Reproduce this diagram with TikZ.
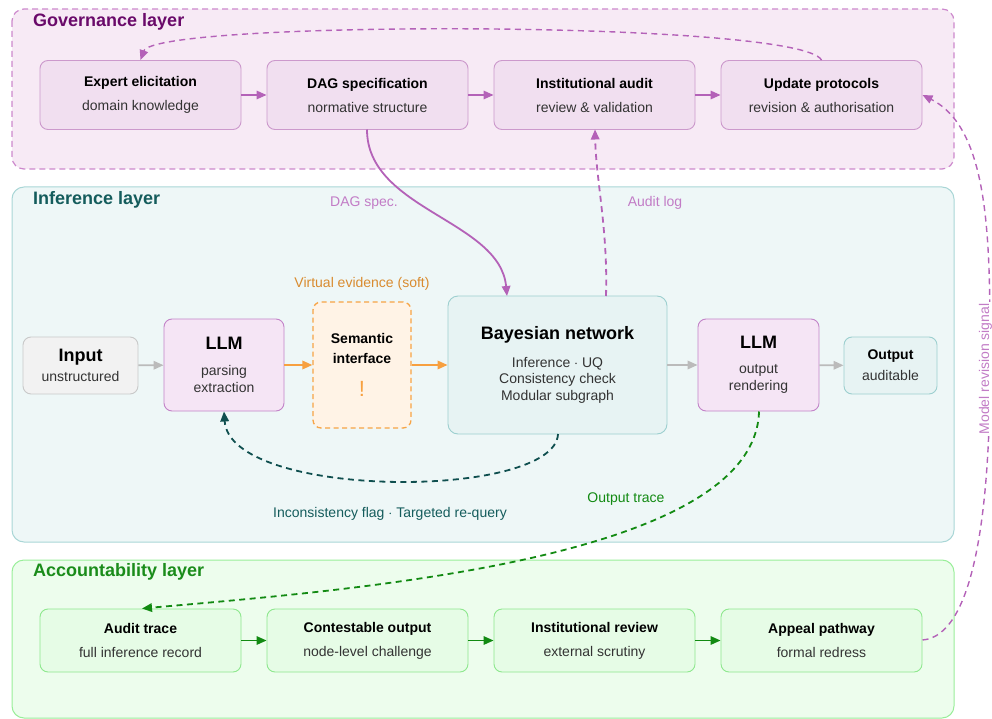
\documentclass[tikz,border=0pt]{standalone}
\usepackage{fontspec}
\setmainfont{Liberation Sans}
\usetikzlibrary{arrows.meta}
\definecolor{govlayfill}{HTML}{F7EAF5}
\definecolor{govlaybd}{HTML}{CC88CC}
\definecolor{govboxfill}{HTML}{F1DFF0}
\definecolor{govboxbd}{HTML}{CC99CC}
\definecolor{govtitle}{HTML}{6A0A6A}
\definecolor{purpconn}{HTML}{B462B8}
\definecolor{purplabel}{HTML}{C27CC6}
\definecolor{inflayfill}{HTML}{EEF7F7}
\definecolor{inflaybd}{HTML}{A9D6D6}
\definecolor{inftitle}{HTML}{145C5C}
\definecolor{tealconn}{HTML}{0F4F4F}
\definecolor{bayesfill}{HTML}{E7F3F3}
\definecolor{bayesbd}{HTML}{9CCFCF}
\definecolor{llmfill}{HTML}{F5E5F5}
\definecolor{llmbd}{HTML}{C283C8}
\definecolor{inpfill}{HTML}{F2F2F2}
\definecolor{inpbd}{HTML}{C9C9C9}
\definecolor{semfill}{HTML}{FFF3E6}
\definecolor{sembd}{HTML}{F7A445}
\definecolor{orconn}{HTML}{F7A040}
\definecolor{orlabel}{HTML}{D98B2F}
\definecolor{grayconn}{HTML}{BBBBBB}
\definecolor{acclayfill}{HTML}{EDFDED}
\definecolor{acclaybd}{HTML}{99EE99}
\definecolor{accboxfill}{HTML}{E6FCE6}
\definecolor{accboxbd}{HTML}{8EE88E}
\definecolor{acctitle}{HTML}{1A8C1A}
\definecolor{greenconn}{HTML}{128A12}
\definecolor{subtext}{HTML}{333333}
\begin{document}
\begin{tikzpicture}[x=1pt,y=-1pt,
  layertitle/.style={anchor=west, inner sep=0pt, font=\fontsize{18}{20}\selectfont\bfseries},
  stagebox/.style={rounded corners=8pt, line width=0.9pt, minimum width=201pt, inner sep=0pt, align=center, font=\fontsize{14}{17}\selectfont, text=subtext},
  govbox/.style={stagebox, draw=govboxbd, fill=govboxfill, minimum height=69pt},
  accbox/.style={stagebox, draw=accboxbd, fill=accboxfill, minimum height=63pt},
  flowbox/.style={rounded corners=8pt, line width=0.9pt, inner sep=0pt, align=center, text=subtext},
  tip/.style={-{Triangle[length=10pt,width=8.5pt]}},
  conn/.style={line width=1.8pt, tip},
  dconn/.style={line width=1.8pt, tip, dash pattern=on 6pt off 4.5pt},
  lbl/.style={font=\fontsize{14}{16}\selectfont, inner sep=1pt}
]
\useasboundingbox (0,0) rectangle (992,719);
% layers
\draw[fill=govlayfill, draw=govlaybd, line width=1.2pt, dash pattern=on 6pt off 4pt, rounded corners=12pt] (12,9) rectangle (954,169);
\draw[fill=inflayfill, draw=inflaybd, line width=1pt, rounded corners=12pt] (12,187) rectangle (954,542);
\draw[fill=acclayfill, draw=acclaybd, line width=1pt, rounded corners=12pt] (12,560) rectangle (954,718);
\node[layertitle, text=govtitle] (tgov) at (33,22) {Governance layer};
\node[layertitle, text=inftitle] (tinf) at (33,200) {Inference layer};
\node[layertitle, text=acctitle] (tacc) at (33,572) {Accountability layer};

% governance boxes
\node[govbox] (ge) at (140.5,95) {\textbf{\color{black}Expert elicitation}\\[7pt]domain knowledge};
\node[govbox] (gd) at (367.5,95) {\textbf{\color{black}DAG specification}\\[7pt]normative structure};
\node[govbox] (ga) at (594.5,95) {\textbf{\color{black}Institutional audit}\\[7pt]review \& validation};
\node[govbox] (gu) at (821.5,95) {\textbf{\color{black}Update protocols}\\[7pt]revision \& authorisation};

% accountability boxes
\node[accbox] (at) at (140.5,640.5) {\textbf{\color{black}Audit trace}\\[7pt]full inference record};
\node[accbox] (ac) at (367.5,640.5) {\textbf{\color{black}Contestable output}\\[7pt]node-level challenge};
\node[accbox] (ar) at (594.5,640.5) {\textbf{\color{black}Institutional review}\\[7pt]external scrutiny};
\node[accbox] (ap) at (821.5,640.5) {\textbf{\color{black}Appeal pathway}\\[7pt]formal redress};

% inference nodes
\node[flowbox, draw=inpbd, fill=inpfill, minimum width=115pt, minimum height=57pt, font=\fontsize{14}{20.5}\selectfont] (inp) at (80.5,365.5)
  {{\fontsize{18}{20}\selectfont\bfseries\color{black}Input}\\unstructured};
\node[flowbox, draw=llmbd, fill=llmfill, minimum width=120pt, minimum height=92pt, font=\fontsize{14}{17}\selectfont] (llma) at (224,365)
  {{\fontsize{18}{20}\selectfont\bfseries\color{black}LLM}\\[8.5pt]parsing\\extraction};
\node[flowbox, draw=sembd, fill=semfill, dash pattern=on 5pt off 3.5pt, line width=1.3pt, minimum width=98pt, minimum height=126pt, font=\fontsize{14}{20}\selectfont] (sem) at (362,365)
  {\textbf{\color{black}Semantic}\\\textbf{\color{black}interface}\\[13pt]{\fontsize{22}{20}\selectfont\color{orconn}!}};
\node[flowbox, draw=bayesbd, fill=bayesfill, rounded corners=10pt, minimum width=219pt, minimum height=138pt, font=\fontsize{14}{16.5}\selectfont] (bn) at (557.5,365)
  {{\fontsize{18}{20}\selectfont\bfseries\color{black}Bayesian network}\\[11pt]Inference $\cdot$ UQ\\Consistency check\\Modular subgraph};
\node[flowbox, draw=llmbd, fill=llmfill, minimum width=121pt, minimum height=92pt, font=\fontsize{14}{17}\selectfont] (llmb) at (758.5,365)
  {{\fontsize{18}{20}\selectfont\bfseries\color{black}LLM}\\[7.5pt]output\\rendering};
\node[flowbox, draw=bayesbd, fill=bayesfill, minimum width=93pt, minimum height=57pt, font=\fontsize{14}{21}\selectfont] (outp) at (890.5,365.5)
  {\textbf{\color{black}Output}\\auditable};

% governance chain
\draw[conn, draw=purpconn, line width=1.5pt] (ge) -- (gd);
\draw[conn, draw=purpconn, line width=1.5pt] (gd) -- (ga);
\draw[conn, draw=purpconn, line width=1.5pt] (ga) -- (gu);
\draw[dconn, draw=purpconn, line width=1.4pt] (gu.north) .. controls (800,20) and (155,20) .. (ge.north);

% accountability chain
\draw[conn, draw=greenconn, line width=1.5pt] (at) -- (ac);
\draw[conn, draw=greenconn, line width=1.5pt] (ac) -- (ar);
\draw[conn, draw=greenconn, line width=1.5pt] (ar) -- (ap);

% inference flow
\draw[conn, draw=grayconn] (inp) -- (llma);
\draw[conn, draw=orconn] (llma) -- (sem);
\draw[conn, draw=orconn] (sem) -- (bn);
\draw[conn, draw=grayconn] (bn) -- (llmb);
\draw[conn, draw=grayconn] (llmb) -- (outp);

% cross-layer connectors
\coordinate (dagin) at (507,296);
\coordinate (audout) at (606,296);
\coordinate (audin) at (595,129.5);
\coordinate (dagout) at (367,129.5);
\draw[conn, draw=purpconn] (dagout) .. controls (367,210) and (500,220) .. (dagin);
\draw[dconn, draw=purpconn] (audout) .. controls (608,230) and (596,180) .. (audin);
\coordinate (bnbot) at (558,434);
\coordinate (llmabot) at (224,411.5);
\draw[dconn, draw=tealconn] (bnbot) .. controls (555,500) and (230,500) .. (llmabot);
\coordinate (llmbbot) at (759,411.5);
\coordinate (attop) at (142,608.5);
\draw[dconn, draw=greenconn] (llmbbot) .. controls (755,560) and (350,590) .. (attop);
\coordinate (apeast) at (922.5,640);
\coordinate (gueast) at (922.5,95);
\coordinate (mrs) at (990,368);
\draw[dconn, draw=purpconn, line width=1.4pt] (apeast) .. controls (972,636) and (990,520) .. (mrs) .. controls (990,250) and (992,130) .. (gueast);

% labels
\node[lbl, text=purplabel] (ldag) at (364,203) {DAG spec.};
\node[lbl, text=purplabel] (laud) at (655,203) {Audit log};
\node[lbl, text=orlabel] (lve) at (362,284) {Virtual evidence (soft)};
\node[lbl, text=inftitle] (linc) at (390,514) {Inconsistency flag $\cdot$ Targeted re-query};
\node[lbl, text=greenconn] (lout) at (626,499) {Output trace};
\node[lbl, text=purplabel, fill=white, rotate=90, inner sep=1.5pt] (lmrs) at (985.5,369) {Model revision signal};
\end{tikzpicture}
\end{document}
